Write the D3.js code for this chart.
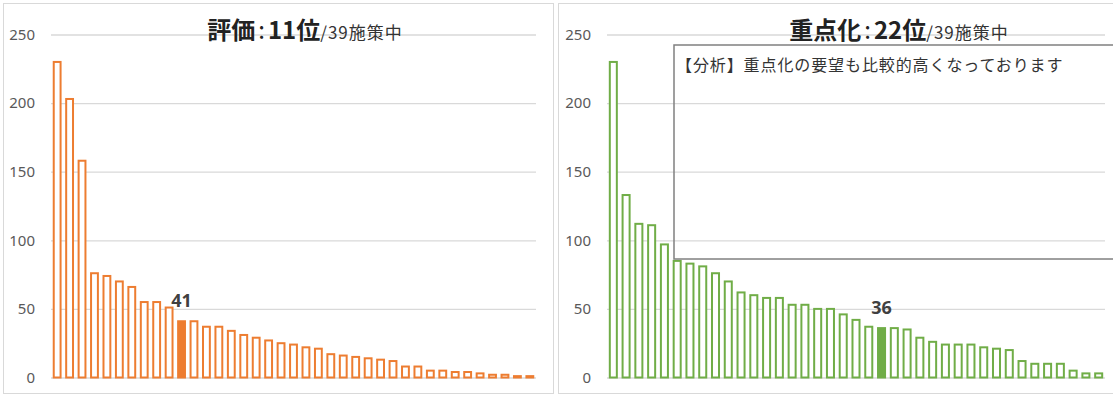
<!DOCTYPE html>
<html>
<head>
<meta charset="utf-8">
<script src="https://cdn.jsdelivr.net/npm/d3@7"></script>
<style>
  body { margin: 0; background: #fff; }
  svg { display: block; }
  .tick text { font-family: "Noto Sans", sans-serif; font-size: 15px; fill: #595959; }
</style>
</head>
<body>
<div id="chart-area"></div>
<script>
// values, sorted high to low (39 measures each)
var evalValues = [230, 203, 158, 76, 74, 70, 66, 55, 55, 51, 41, 41, 37, 37, 34, 31, 29, 27, 25, 24,
                  22, 21, 17, 16, 15, 14, 13, 12, 8, 8, 5, 5, 4, 4, 3, 2, 2, 1, 1];
var focusValues = [230, 133, 112, 111, 97, 85, 83, 81, 76, 70, 62, 60, 58, 58, 53, 53, 50, 50, 46, 42,
                   37, 36, 36, 35, 29, 26, 24, 24, 24, 22, 21, 20, 12, 10, 10, 10, 5, 3, 3];
var yTicks = [0, 50, 100, 150, 200, 250];
var titles = [
  { name: "評価", rank: "11位", sub: "/39施策中" },
  { name: "重点化", rank: "22位", sub: "/39施策中" }
];
var highlightIndex = [10, 21];   // 11th and 22nd bars
var note = "【分析】重点化の要望も比較的高くなっております";

var svg = d3.select("#chart-area")
    .append("svg")
        .attr("width", 1113)
        .attr("height", 396);

// panel frames
svg.append("rect")
    .attr("x", 3.5).attr("y", 3.5)
    .attr("width", 550).attr("height", 390)
    .attr("fill", "#fff").attr("stroke", "#d9d9d9");
svg.append("rect")
    .attr("x", 558.5).attr("y", 3.5)
    .attr("width", 600).attr("height", 390)
    .attr("fill", "#fff").attr("stroke", "#d9d9d9");

var y = d3.scaleLinear()
    .domain([0, 250])
    .range([377.5, 34.5]);

function drawPanel(values, opts) {
    var g = svg.append("g");

    var x = d3.scaleBand()
        .domain(d3.range(values.length))
        .range([opts.left, opts.right])
        .paddingInner(0.45)
        .paddingOuter(0.22);

    // gridlines + labels
    var yAxisCall = d3.axisLeft(y)
        .tickValues(yTicks)
        .tickSize(-(opts.right - opts.left))
        .tickPadding(16);
    var ax = g.append("g")
        .attr("transform", "translate(" + opts.left + ",0)")
        .call(yAxisCall);
    ax.select(".domain").remove();
    ax.selectAll(".tick line").attr("stroke", "#d9d9d9").attr("stroke-width", 1.3);
    ax.selectAll(".tick text").attr("x", opts.labelX - opts.left);

    // title
    var title = g.append("text")
        .attr("x", opts.titleX)
        .attr("y", 39)
        .attr("text-anchor", "middle")
        .attr("font-family", "'Noto Sans CJK JP', sans-serif")
        .attr("fill", "#222");
    title.append("tspan")
        .attr("font-size", "24px")
        .attr("font-weight", "bold")
        .text(opts.title.name);
    title.append("tspan")
        .attr("font-size", "24px")
        .attr("dx", 3)
        .text(":");
    title.append("tspan")
        .attr("font-size", "24px")
        .attr("font-weight", "bold")
        .attr("dx", 3)
        .text(opts.title.rank);
    title.append("tspan")
        .attr("font-size", "17px")
        .attr("letter-spacing", "1px")
        .attr("fill", "#333")
        .text(opts.title.sub);

    // bars
    g.selectAll("rect.bar").data(values)
        .enter()
        .append("rect")
        .attr("class", "bar")
        .attr("x", function(d, i) { return x(i); })
        .attr("y", function(d) { return y(d); })
        .attr("width", x.bandwidth())
        .attr("height", function(d) { return y(0) - y(d); })
        .attr("fill", function(d, i) { return i == opts.highlight ? opts.color : "#fff"; })
        .attr("stroke", opts.color)
        .attr("stroke-width", 2);

    // value label on highlighted bar
    var hv = values[opts.highlight];
    g.append("text")
        .attr("x", x(opts.highlight) + x.bandwidth() / 2)
        .attr("y", y(hv) - 14)
        .attr("text-anchor", "middle")
        .attr("font-family", "'Noto Sans', sans-serif")
        .attr("font-size", "18px")
        .attr("font-weight", "bold")
        .attr("fill", "#404040")
        .text(hv);

    return g;
}

drawPanel(evalValues, {
    left: 51, right: 536, labelX: 35, titleX: 305,
    title: titles[0], highlight: highlightIndex[0], color: "#ed7d31"
});

var right = drawPanel(focusValues, {
    left: 607, right: 1105, labelX: 591, titleX: 899,
    title: titles[1], highlight: highlightIndex[1], color: "#70ad47"
});

// annotation box
right.append("rect")
    .attr("x", 674).attr("y", 45)
    .attr("width", 460).attr("height", 214)
    .attr("fill", "none")
    .attr("stroke", "#808080")
    .attr("stroke-width", 1.5);
right.append("text")
    .attr("x", 676)
    .attr("y", 71)
    .attr("font-family", "'Noto Sans CJK JP', sans-serif")
    .attr("font-size", "16px")
    .attr("letter-spacing", "0.9px")
    .attr("fill", "#333")
    .text(note);
</script>
</body>
</html>
